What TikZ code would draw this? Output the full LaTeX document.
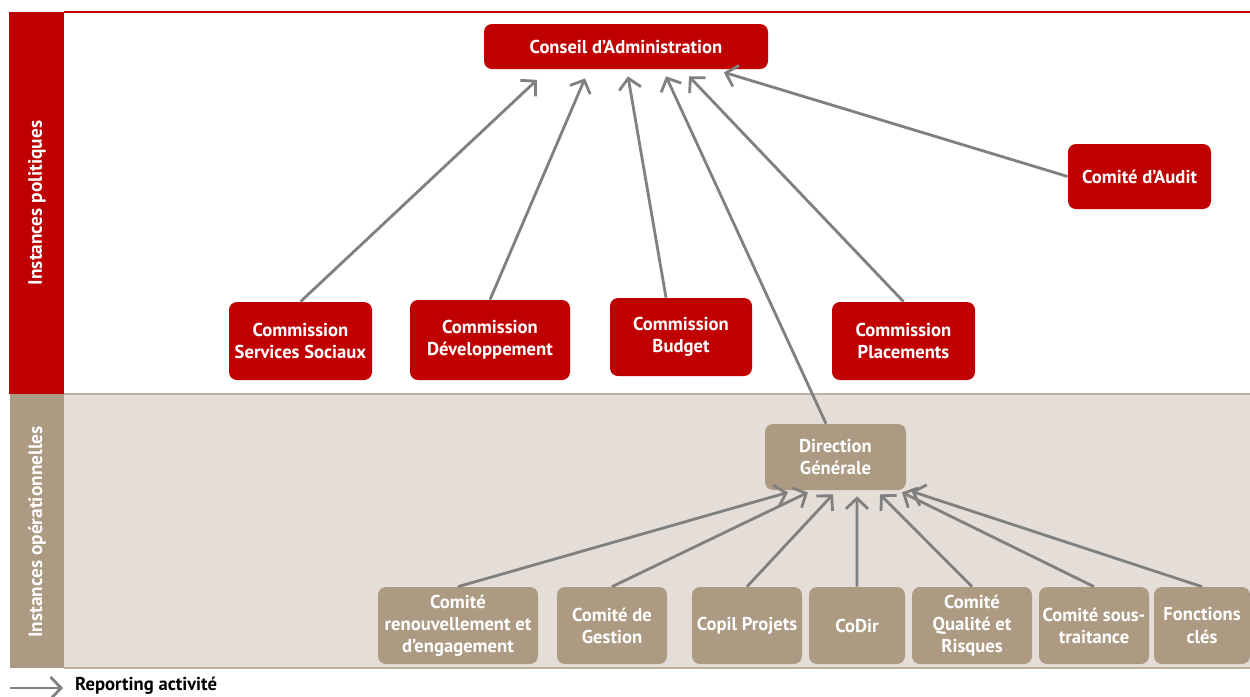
\documentclass[tikz,border=0pt]{standalone}
\usepackage{fontspec}
\setmainfont{PT Sans}
\usetikzlibrary{
    arrows.meta,
    positioning
}
\definecolor{rougeCA}{RGB}{192,0,0}
\definecolor{brunOp}{RGB}{173,154,130}
\definecolor{fondOp}{RGB}{229,222,216}
\definecolor{bordOp}{RGB}{190,176,160}
\definecolor{grisFleche}{RGB}{128,128,128}
\tikzset{
    % --- Instance box (rounded, white bold label) ---
    instance/.style = {
        rectangle, rounded corners=1.6mm,
        text=white, align=center, inner sep=2pt,
        font=\bfseries\fontsize{10.6}{12.6}\selectfont
    },
    % --- Political body (red) ---
    politique/.style = {
        instance, fill=rougeCA
    },
    % --- Operational body (brown) ---
    operation/.style = {
        instance, fill=brunOp
    },
    % --- Vertical band title ---
    bandeau/.style = {
        rotate=90, text=white,
        font=\bfseries\fontsize{11}{13}\selectfont
    },
    % --- Activity reporting arrow ---
    reporting/.style = {
        -{Straight Barb[length=2.1mm,width=4.4mm]},
        line width=1.6pt, draw=grisFleche
    }
}

\begin{document}
\begin{tikzpicture}[x=0.2mm, y=-0.2mm]
\useasboundingbox (0,0) rectangle (1250,696);

% ---------------------------------------------------------
% 1. Bands
% ---------------------------------------------------------
\fill[white] (64,12) rectangle (1250,394);
\draw[rougeCA, line width=0.8pt] (64,12) -- (1250,12);
\fill[fondOp] (64,394) rectangle (1250,668);
\draw[bordOp, line width=0.8pt] (64,394) -- (1250,394);
\draw[bordOp, line width=0.8pt] (64,668) -- (1250,668);
\fill[rougeCA] (9,12) rectangle (64,394);
\fill[brunOp] (10,394) rectangle (64,668);

\node[bandeau] (labPol) at (37,203) {Instances politiques};
\node[bandeau] (labOp)  at (37,532) {Instances opérationnelles};

% ---------------------------------------------------------
% 2. Political bodies
% ---------------------------------------------------------
\node[politique, minimum width=56.8mm, minimum height=9mm]    (ca)    at (626,46.5) {Conseil d’Administration};
\node[politique, minimum width=28.6mm, minimum height=13mm]   (audit) at (1139.5,176.5) {Comité d’Audit};
\node[politique, minimum width=28.6mm, minimum height=15.6mm] (css)   at (300.5,341) {Commission\\Services Sociaux};
\node[politique, minimum width=32mm,   minimum height=16mm]   (cdev)  at (490,340) {Commission\\Développement};
\node[politique, minimum width=28.4mm, minimum height=15.6mm] (cbud)  at (681,337) {Commission\\Budget};
\node[politique, minimum width=28.6mm, minimum height=15.6mm] (cplac) at (903.5,341) {Commission\\Placements};

% ---------------------------------------------------------
% 3. Operational bodies
% ---------------------------------------------------------
\node[operation, minimum width=28.2mm, minimum height=13.2mm] (dg) at (835.5,457) {Direction\\Générale};

\node[operation, minimum width=32mm,   minimum height=15.4mm] (renouv)  at (458,625.5)  {Comité\\renouvellement et\\d’engagement};
\node[operation, minimum width=22mm,   minimum height=15.4mm] (gestion) at (612,625.5)  {Comité de\\Gestion};
\node[operation, minimum width=22mm,   minimum height=15.4mm] (copil)   at (747,625.5)  {Copil Projets};
\node[operation, minimum width=19.2mm, minimum height=15.4mm] (codir)   at (857,625.5)  {CoDir};
\node[operation, minimum width=24mm,   minimum height=15.4mm] (qualite) at (972,625.5)  {Comité\\Qualité et\\Risques};
\node[operation, minimum width=22mm,   minimum height=15.4mm] (soustr)  at (1094,625.5) {Comité sous-\\traitance};
\node[operation, minimum width=19.2mm, minimum height=15.4mm] (fcles)   at (1202,625.5) {Fonctions\\clés};

% ---------------------------------------------------------
% 4. Reporting to the board
% ---------------------------------------------------------
\draw[reporting] (css.north)                 -- ([xshift=-17.8mm, yshift=-2.1mm]ca.south);
\draw[reporting] (cdev.north)                -- ([xshift=-8.2mm,  yshift=-1.8mm]ca.south);
\draw[reporting] ([xshift=-3mm]cbud.north)   -- ([xshift=0.4mm,   yshift=-1.4mm]ca.south);
\draw[reporting] ([xshift=-1.9mm]dg.north)   -- ([xshift=8mm,     yshift=-1.4mm]ca.south);
\draw[reporting] (cplac.north)               -- ([xshift=12.6mm,  yshift=-1.4mm]ca.south);
\draw[reporting] (audit.west)                -- ([xshift=19.6mm,  yshift=-0.6mm]ca.south);

% ---------------------------------------------------------
% 5. Reporting to the general management
% ---------------------------------------------------------
\draw[reporting] (renouv.north)  -- ([xshift=-9.5mm, yshift=-0.4mm]dg.south);
\draw[reporting] (gestion.north) -- ([xshift=-5.5mm, yshift=-0.4mm]dg.south);
\draw[reporting] (copil.north)   -- ([xshift=-0.5mm, yshift=-0.8mm]dg.south);
\draw[reporting] (codir.north)   -- ([xshift=4.3mm,  yshift=-1.2mm]dg.south);
\draw[reporting] (qualite.north) -- ([xshift=8.9mm,  yshift=-0.8mm]dg.south);
\draw[reporting] (soustr.north)  -- ([xshift=13.3mm, yshift=-0.4mm]dg.south);
\draw[reporting] (fcles.north)   -- ([xshift=15.2mm, yshift=-0.2mm]dg.south);

% ---------------------------------------------------------
% 6. Legend
% ---------------------------------------------------------
\coordinate (legDep) at (10,688);
\node[anchor=west, font=\bfseries\fontsize{10.6}{12}\selectfont] (legTxt) at (69,686) {Reporting activité};
\draw[reporting] (legDep) -- ([xshift=-1.2mm]legTxt.west |- legDep);

\end{tikzpicture}
\end{document}
